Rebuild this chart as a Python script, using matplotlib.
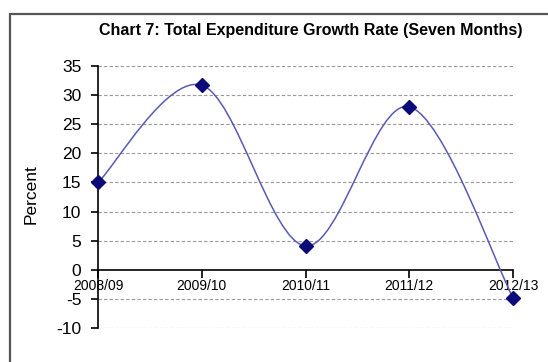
import numpy as np
import matplotlib.pyplot as plt
from matplotlib.path import Path
from matplotlib.patches import PathPatch, Rectangle

years = ['2008/09', '2009/10', '2010/11', '2011/12', '2012/13']
growth = [15.0, 31.7, 4.1, 28.0, -4.8]   # percent
y_ticks = [-10, -5, 0, 5, 10, 15, 20, 25, 30, 35]

plt.rcParams['font.family'] = ['Liberation Sans', 'DejaVu Sans']

fig = plt.figure(figsize=(5.48, 3.62), dpi=100)
ax = fig.add_axes([98 / 548, 1 - 328 / 362, 415 / 548, 262 / 362])

# chart area frame (runs off the right/bottom of the picture)
fig.patches.append(Rectangle((10 / 548, -0.1), 1.2, 0.1 + 1 - 14 / 362,
                             transform=fig.transFigure, fill=False,
                             edgecolor='#555555', lw=1.6))

x = np.arange(len(years))
pts = np.column_stack([x, growth])

# excel-style smoothed line: catmull-rom as cubic beziers
verts = [pts[0]]
codes = [Path.MOVETO]
n = len(pts)
for i in range(n - 1):
    p0 = pts[max(i - 1, 0)]
    p1 = pts[i]
    p2 = pts[i + 1]
    p3 = pts[min(i + 2, n - 1)]
    verts += [p1 + (p2 - p0) / 6, p2 - (p3 - p1) / 6, p2]
    codes += [Path.CURVE4] * 3
ax.add_patch(PathPatch(Path(verts, codes), facecolor='none',
                       edgecolor='#5A5AB4', lw=1.1, clip_on=False, zorder=3))

ax.plot(x, growth, ls='none', marker='D', ms=7, color='#0A0A78',
        clip_on=False, zorder=4)

# gridlines (except at zero where the axis is)
for v in y_ticks:
    if v != 0:
        ax.axhline(v, color='#999999', lw=0.8, ls=(0, (3, 2)), zorder=1)

ax.set_xlim(0, len(years) - 1)
ax.set_ylim(-10, 35)
ax.set_xticks(x)
ax.set_xticklabels(years, fontsize=13.5)
ax.set_yticks(y_ticks)
ax.set_yticklabels([str(v) for v in y_ticks], fontsize=12.5)

ax.spines['top'].set_visible(False)
ax.spines['right'].set_visible(False)
ax.spines['bottom'].set_position(('data', 0))
ax.spines['left'].set_linewidth(1.2)
ax.spines['bottom'].set_linewidth(1.2)
ax.tick_params(axis='x', direction='out', length=6, width=1.2, pad=1)
ax.tick_params(axis='y', direction='out', length=5, width=1.2, pad=7)
for t in ax.get_xticklabels():
    t.set_zorder(5)

fig.text(311 / 548, 1 - 31 / 362, 'Chart 7: Total Expenditure Growth Rate (Seven Months)',
         ha='center', va='center', fontsize=11.5, fontweight='bold')
fig.text(31 / 548, 1 - 194 / 362, 'Percent', rotation=90, ha='center',
         va='center', fontsize=12.5)

fig.savefig('out.png', dpi=100)
